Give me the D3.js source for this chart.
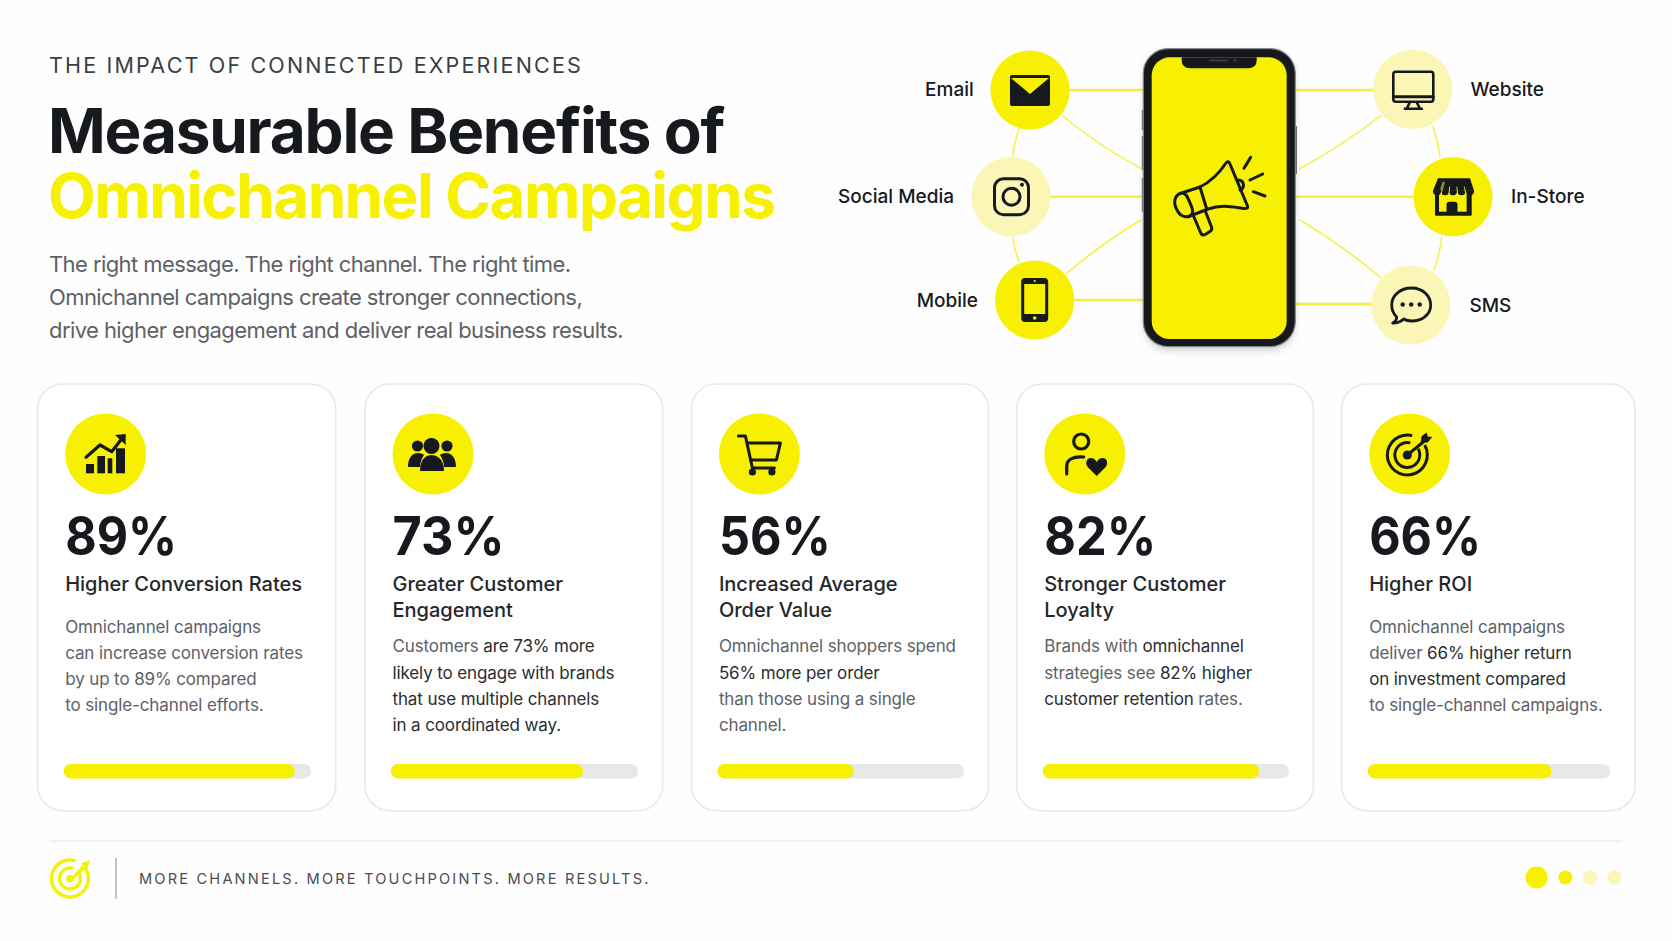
<!DOCTYPE html>
<html>
<head>
<meta charset="utf-8">
<script src="https://cdn.jsdelivr.net/npm/d3@7"></script>
<style>
  html, body { margin: 0; padding: 0; background: #fefefe; }
  svg { display: block; font-family: Inter, "Noto Sans", sans-serif; }
</style>
</head>
<body>
<div id="chart"></div>
<script>
// chart values
const eyebrow = "THE IMPACT OF CONNECTED EXPERIENCES";
const titleLines = ["Measurable Benefits of", "Omnichannel Campaigns"];
const introLines = [
    "The right message. The right channel. The right time.",
    "Omnichannel campaigns create stronger connections,",
    "drive higher engagement and deliver real business results."
];
const channelNames = ["Email", "Social Media", "Mobile", "Website", "In-Store", "SMS"];
const channelIcons = ["mail", "insta", "phone", "monitor", "store", "chat"];

const statLabels = ["89%", "73%", "56%", "82%", "66%"];
const statIcons = ["growth", "people", "cart", "loyal", "target"];
const statTitles = [
    ["Higher Conversion Rates"],
    ["Greater Customer", "Engagement"],
    ["Increased Average", "Order Value"],
    ["Stronger Customer", "Loyalty"],
    ["Higher ROI"]
];
// text between * is the darker emphasis in the card copy
const statBodies = [
    ["Omnichannel campaigns", "can increase conversion rates", "by up to 89% compared", "to single-channel efforts."],
    ["Customers *are 73% more*", "*likely to engage with brands*", "*that use multiple channels*", "*in a coordinated way.*"],
    ["Omnichannel shoppers spend", "*56% more per order*", "than those using a single", "channel."],
    ["Brands with *omnichannel*", "strategies see *82% higher*", "*customer retention* rates."],
    ["Omnichannel campaigns", "deliver *66% higher return*", "*on investment compared*", "to single-channel campaigns."]
];
// length of the yellow bars as drawn, in % of the track
const barValues = [93.4, 77.7, 55.3, 87.9, 75.7];
const footerText = "MORE CHANNELS. MORE TOUCHPOINTS. MORE RESULTS.";

// layout
const width = 1672, height = 941;
const yellow = "#f7f000", pale = "#fbf6b6", ink = "#16191e", gray = "#5e6166", bodyDark = "#2a2d31";
const cardLeft = [37.7, 365, 691.4, 1016.7, 1341.7];
const cardRight = [335.7, 662.7, 988.5, 1313.4, 1635];
const nodeX = [1030, 1011, 1034.7, 1412.8, 1453, 1410.7];
const nodeY = [90, 196.7, 300, 89.3, 196.7, 305];
const labelX = [973.8, 954, 978, 1470.5, 1511, 1469.5];
const labelY = [96, 203.3, 307, 96, 203.3, 312.3];
const nodeFill = [yellow, pale, yellow, pale, yellow, pale];

const svg = d3.select("#chart").append("svg")
    .attr("width", width)
    .attr("height", height)
    .attr("viewBox", [0, 0, width, height]);

svg.append("rect").attr("width", width).attr("height", height).attr("fill", "#fefefe");

const defs = svg.append("defs");
defs.append("filter").attr("id", "soft").attr("x", "-20%").attr("y", "-20%").attr("width", "140%").attr("height", "140%")
    .append("feGaussianBlur").attr("stdDeviation", 4);

// header text
svg.append("text")
    .attr("x", 49).attr("y", 73.3)
    .attr("font-size", 21.5).attr("letter-spacing", 2.17).attr("fill", "#3b3f44")
    .text(eyebrow);

svg.selectAll(".title").data(titleLines).join("text")
    .attr("class", "title")
    .attr("x", 48).attr("y", (d, i) => 152.7 + i * 64.8)
    .attr("font-size", 62).attr("font-weight", 700)
    .attr("letter-spacing", (d, i) => i ? -1.6 : -1.2)
    .attr("fill", (d, i) => i ? yellow : ink)
    .text(d => d);

svg.selectAll(".intro").data(introLines).join("text")
    .attr("class", "intro")
    .attr("x", 49).attr("y", (d, i) => 271.7 + i * 33.3)
    .attr("font-size", 22).attr("letter-spacing", -0.58).attr("fill", gray)
    .text(d => d);

// connector lines behind the nodes
const connectors = [
    "M1060,90H1143", "M1045,196.7H1143", "M1064,300H1143",
    "M1296,90H1375", "M1296,196.7H1415", "M1296,304H1375",
    "M1062.8,116Q1099,146 1140.8,168.3", "M1066,274Q1101,244 1140.8,220",
    "M1381.6,115Q1342,146 1299,169", "M1299,219.3Q1343,246 1380.6,277.3",
    "M1019.4,128Q1014,142 1012.8,156.7", "M1013,236.7Q1014,250 1019.4,261.7",
    "M1432.7,126Q1438,142 1440,156.7", "M1441.8,236.7Q1440,254 1434,270"
];
svg.selectAll(".connector").data(connectors).join("path")
    .attr("class", "connector")
    .attr("d", d => d)
    .attr("fill", "none")
    .attr("stroke", "#f6f040")
    .attr("stroke-width", (d, i) => i < 6 ? 2.4 : 1.5);

// phone
const phone = svg.append("g");
phone.append("rect").attr("x", 1145).attr("y", 52).attr("width", 149).attr("height", 298).attr("rx", 24)
    .attr("fill", "#000").attr("opacity", 0.2).attr("filter", "url(#soft)");
[[1141.8, 110, 20], [1141.8, 136, 34], [1141.8, 178, 34], [1295, 126, 48]].forEach(b => {
    phone.append("rect").attr("x", b[0]).attr("y", b[1]).attr("width", 2).attr("height", b[2]).attr("fill", "#6a6d70");
});
phone.append("rect").attr("x", 1143.3).attr("y", 48.6).attr("width", 152).attr("height", 298).attr("rx", 25)
    .attr("fill", "#17181b").attr("stroke", "#85888c").attr("stroke-width", 1.2);
phone.append("rect").attr("x", 1151.7).attr("y", 57.3).attr("width", 135).attr("height", 281.7).attr("rx", 18).attr("fill", yellow);
phone.append("path")
    .attr("d", "M1181.7,57.3H1256.7V60Q1256.7,68.3 1248,68.3H1190.5Q1181.7,68.3 1181.7,60Z")
    .attr("fill", "#17181b");
phone.append("rect").attr("x", 1209).attr("y", 59.5).attr("width", 19).attr("height", 2).attr("rx", 1).attr("fill", "#3a3b3f");
phone.append("circle").attr("cx", 1235).attr("cy", 60.5).attr("r", 1.6).attr("fill", "#3a3b3f");

// megaphone on the phone
const mega = phone.append("g").attr("fill", "none").attr("stroke", ink).attr("stroke-width", 3)
    .attr("stroke-linejoin", "round").attr("stroke-linecap", "round");
mega.append("path").attr("d", "M1181.7,193L1200,187C1210,182 1220,172 1226,163Q1228.5,160 1230,164L1247.5,206Q1248.5,209 1244,208.5C1233,207 1222,204 1208,209L1190,216");
mega.append("path").attr("d", "M1181.7,193C1174,195 1173,203 1177,210C1180,216 1185,218 1190,216C1194,214 1193,209 1190,203C1188,198 1186,192 1181.7,193Z");
mega.append("path").attr("d", "M1200,187L1206.7,209");
mega.append("path").attr("d", "M1193.5,216L1201,233.5Q1202.5,236 1205,234.5L1210,231.5Q1212.5,230 1211.5,227L1205.5,211.5");
mega.append("path").attr("d", "M1238,180Q1243,180 1243.5,185Q1243.5,189 1240,190");
mega.append("path").attr("d", "M1244,168.3L1250.7,157.3M1250,180L1262.7,174M1253.3,191.7L1265,196");

// channel nodes
const nodes = svg.selectAll(".node").data(channelNames).join("g").attr("class", "node");
nodes.append("circle")
    .attr("cx", (d, i) => nodeX[i]).attr("cy", (d, i) => nodeY[i]).attr("r", 39.6)
    .attr("fill", (d, i) => nodeFill[i]);
nodes.append("g")
    .attr("transform", (d, i) => `translate(${nodeX[i]},${nodeY[i]})`)
    .each(function(d, i) { drawIcon(d3.select(this), channelIcons[i], nodeFill[i]); });
nodes.append("text")
    .attr("x", (d, i) => labelX[i]).attr("y", (d, i) => labelY[i])
    .attr("text-anchor", (d, i) => i < 3 ? "end" : "start")
    .attr("font-size", 19).attr("font-weight", 500).attr("fill", ink)
    .text(d => d);

// stat cards
const card = svg.selectAll(".card").data(statLabels).join("g").attr("class", "card");

card.append("rect")
    .attr("x", (d, i) => cardLeft[i]).attr("y", 384)
    .attr("width", (d, i) => cardRight[i] - cardLeft[i]).attr("height", 426.7)
    .attr("rx", 25).attr("fill", "#fff").attr("stroke", "#e8e8e8").attr("stroke-width", 1.6);

card.append("circle")
    .attr("cx", (d, i) => cardLeft[i] + 68).attr("cy", 454).attr("r", 40.5).attr("fill", yellow);

card.append("g")
    .attr("transform", (d, i) => `translate(${cardLeft[i] + 68},454)`)
    .each(function(d, i) { drawIcon(d3.select(this), statIcons[i], yellow); });

card.append("text")
    .attr("x", (d, i) => cardLeft[i] + 27.5).attr("y", 555)
    .attr("font-size", 53).attr("font-weight", 700).attr("fill", ink)
    .attr("textLength", 112).attr("lengthAdjust", "spacingAndGlyphs")
    .text(d => d);

card.each(function(d, i) {
    const g = d3.select(this);
    const textX = cardLeft[i] + 27.5;
    const titles = statTitles[i];
    g.selectAll(".card-title").data(titles).join("text")
        .attr("class", "card-title")
        .attr("x", textX).attr("y", (t, j) => 590.7 + j * 26)
        .attr("font-size", 20).attr("font-weight", 500).attr("fill", "#24272b")
        .text(t => t);

    // body copy starts one line lower when the title wraps
    const bodyTop = titles.length > 1 ? 652.3 : 632.8;
    g.selectAll(".card-body").data(statBodies[i]).join("text")
        .attr("class", "card-body")
        .attr("x", textX).attr("y", (t, j) => bodyTop + j * 26.2)
        .attr("font-size", 17).attr("letter-spacing", -0.12).attr("fill", gray)
        .each(function(t) {
            const line = d3.select(this);
            t.split("*").forEach((part, k) => {
                if (part) line.append("tspan").attr("fill", k % 2 ? bodyDark : gray).text(part);
            });
        });

    // progress bar
    const x = d3.scaleLinear().domain([0, 100]).range([cardLeft[i] + 26, cardRight[i] - 24.5]);
    g.append("rect")
        .attr("x", x(0)).attr("y", 764)
        .attr("width", x(100) - x(0)).attr("height", 14.4)
        .attr("rx", 7.2).attr("fill", "#e8e8e8");
    g.append("rect")
        .attr("x", x(0)).attr("y", 764)
        .attr("width", x(barValues[i]) - x(0)).attr("height", 14.4)
        .attr("rx", 7.2).attr("fill", yellow);
});

// footer
svg.append("line").attr("x1", 50).attr("x2", 1622).attr("y1", 841).attr("y2", 841)
    .attr("stroke", "#ececec").attr("stroke-width", 1.6);
svg.append("g").attr("transform", "translate(70,878.5)")
    .call(g => drawIcon(g, "targetSmall", "#fefefe"));
svg.append("line").attr("x1", 116).attr("x2", 116).attr("y1", 858).attr("y2", 899)
    .attr("stroke", "#bcb79f").attr("stroke-width", 1.6);
svg.append("text").attr("x", 139).attr("y", 883.5)
    .attr("font-size", 14.6).attr("letter-spacing", 2.18).attr("fill", "#4a4d50")
    .text(footerText);

const dotX = [1536.6, 1565.4, 1590, 1614.5];
const dotR = [11, 7, 7, 7];
const dotFill = [yellow, yellow, pale, pale];
svg.selectAll(".dot").data(dotX).join("circle")
    .attr("class", "dot")
    .attr("cx", d => d).attr("cy", 877.5)
    .attr("r", (d, i) => dotR[i])
    .attr("fill", (d, i) => dotFill[i]);

// icons, drawn around the centre of their circle
function drawIcon(g, name, bg) {
    const stroke = (w) => g.append("g").attr("fill", "none").attr("stroke", ink).attr("stroke-width", w)
        .attr("stroke-linecap", "round").attr("stroke-linejoin", "round");
    if (name === "mail") {
        g.append("rect").attr("x", -20).attr("y", -15).attr("width", 40).attr("height", 31).attr("rx", 2).attr("fill", ink);
        g.append("path").attr("d", "M-19,-12L0,4L19,-12Z").attr("fill", bg);
    } else if (name === "insta") {
        const s = stroke(3);
        s.append("rect").attr("x", -16.5).attr("y", -18).attr("width", 34).attr("height", 36).attr("rx", 9);
        s.append("circle").attr("cx", 0.5).attr("cy", 0).attr("r", 8.5);
        g.append("circle").attr("cx", 11).attr("cy", -12).attr("r", 2).attr("fill", ink);
    } else if (name === "phone") {
        g.append("rect").attr("x", -13.5).attr("y", -22).attr("width", 27).attr("height", 44).attr("rx", 4).attr("fill", ink);
        g.append("rect").attr("x", -10.5).attr("y", -16).attr("width", 21).attr("height", 30).attr("fill", bg);
        g.append("circle").attr("cx", 0).attr("cy", -19).attr("r", 1.1).attr("fill", bg);
        g.append("circle").attr("cx", 0).attr("cy", 18).attr("r", 1.8).attr("fill", bg);
    } else if (name === "monitor") {
        const s = stroke(2.6);
        s.append("rect").attr("x", -19.5).attr("y", -17.5).attr("width", 40).attr("height", 30).attr("rx", 2.5);
        s.append("path").attr("d", "M-19.5,7.5H20.5").attr("stroke-width", 3);
        s.append("path").attr("d", "M-3,13L-6,19M4,13L7,19M-8,19.5H9");
    } else if (name === "store") {
        // walls with a doorway, then the awning over them
        g.append("rect").attr("x", -18).attr("y", -3).attr("width", 36.7).attr("height", 22).attr("rx", 1).attr("fill", ink);
        g.append("rect").attr("x", -14).attr("y", -3).attr("width", 27.6).attr("height", 18).attr("fill", bg);
        g.append("path").attr("d", "M-6.5,16V8Q-6.5,5 -3.5,5H1.5Q4.5,5 4.5,8V16Z").attr("fill", ink);
        g.append("path").attr("d", "M-15,-18.4H17L21,-6H-20Z").attr("fill", ink);
        [-20, -12, -4, 4.5, 13].forEach(x => {
            g.append("path").attr("d", `M${x},-6.5H${x + 8}V-5.5A4,4 0 0 1 ${x},-5.5Z`).attr("fill", ink);
        });
        [-12, -4, 4.5, 13].forEach((x, i) => {
            g.append("line").attr("x1", x).attr("x2", x + (i - 1.5) * -1.2).attr("y1", -2).attr("y2", -10)
                .attr("stroke", bg).attr("stroke-width", 0.9);
        });
        g.append("path").attr("d", "M-10.5,-15L-13,-7H-10L-8,-15Z").attr("fill", "#8d8a3a");
    } else if (name === "chat") {
        const s = stroke(2.8);
        s.append("path").attr("d", "M1,-17C-11,-17 -19,-9 -19,0C-19,5 -17,9 -14,12C-14,15 -16,17 -18,18C-13,18 -9,16 -7,14C-4,16 -2,16 1,16C12,16 20,9 20,0C20,-9 12,-17 1,-17Z");
        [-8, 0.5, 9].forEach(x => g.append("circle").attr("cx", x).attr("cy", -0.5).attr("r", 2.2).attr("fill", ink));
    } else if (name === "growth") {
        [[-19.7, 10, 8, 9.3], [-8.4, 2, 7.7, 17.3], [2, 4.3, 4.6, 15], [10.3, -5.7, 9, 25]].forEach(b => {
            g.append("rect").attr("x", b[0]).attr("y", b[1]).attr("width", b[2]).attr("height", b[3]).attr("fill", ink);
        });
        stroke(3.2).append("path").attr("d", "M-19.7,3.3L-5.7,-9L6,-2.3L17,-16.5");
        g.append("path").attr("d", "M9.3,-19L20,-20V-9Z").attr("fill", ink);
    } else if (name === "people") {
        g.append("circle").attr("cx", -1.5).attr("cy", -8).attr("r", 8).attr("fill", ink);
        g.append("circle").attr("cx", -15.5).attr("cy", -8).attr("r", 5.6).attr("fill", ink);
        g.append("circle").attr("cx", 14).attr("cy", -8).attr("r", 5.6).attr("fill", ink);
        g.append("path").attr("d", "M-25,13C-25,3 -20,-1 -15,-1C-12,-1 -10,0 -9,1C-11,4 -13,8 -13,13Z").attr("fill", ink);
        g.append("path").attr("d", "M23,13C23,3 18,-1 13,-1C10,-1 8,0 7,1C9,4 11,8 11,13Z").attr("fill", ink);
        g.append("path").attr("d", "M-13,17C-13,6 -8,1 -1.5,1C5,1 11,6 11,17Z").attr("fill", ink);
    } else if (name === "cart") {
        const s = stroke(3);
        s.append("path").attr("d", "M-21,-18H-14L-7,14H15");
        s.append("path").attr("d", "M-12,-11H21L17,6H-9");
        g.append("circle").attr("cx", -7).attr("cy", 18).attr("r", 3.6).attr("fill", ink);
        g.append("circle").attr("cx", 12.5).attr("cy", 18).attr("r", 3.6).attr("fill", ink);
    } else if (name === "loyal") {
        const s = stroke(3.2);
        s.append("circle").attr("cx", -3.5).attr("cy", -12.5).attr("r", 7.5);
        s.append("path").attr("d", "M-18,20V12C-18,6 -12,2 -1,3");
        g.append("path").attr("d", "M12,22L3,13C0,9 2,4 6,4C9,4 11,6 12,8C13,6 15,4 18,4C22,4 24,9 21,13Z").attr("fill", ink);
    } else if (name === "target") {
        const rings = [[20, 3], [12.5, 3]];
        rings.forEach(a => {
            g.append("path")
                .attr("d", d3.arc()({ innerRadius: a[0] - a[1] / 2, outerRadius: a[0] + a[1] / 2, startAngle: 1.05, endAngle: 2 * Math.PI + 0.25 }))
                .attr("transform", "translate(-2.4,1)")
                .attr("fill", ink);
        });
        g.append("circle").attr("cx", -2.4).attr("cy", 1).attr("r", 4.6).attr("fill", ink);
        g.append("path").attr("d", "M-2.4,1L16,-14").attr("stroke", ink).attr("stroke-width", 3).attr("fill", "none");
        g.append("path").attr("d", "M11,-12L12,-18L17,-21.5L18,-17.5L22.5,-17L18,-11.5Z").attr("fill", ink);
    } else if (name === "targetSmall") {
        // footer version: yellow, no feathers on the arrow
        [[18.5, 3.4], [10.5, 3.4]].forEach(a => {
            g.append("path")
                .attr("d", d3.arc()({ innerRadius: a[0] - a[1] / 2, outerRadius: a[0] + a[1] / 2, startAngle: 0.95, endAngle: 2 * Math.PI + 0.3 }))
                .attr("fill", yellow);
        });
        g.append("circle").attr("cx", 0).attr("cy", 0).attr("r", 3.8).attr("fill", yellow);
        g.append("path").attr("d", "M-1,1.5L13,-14L16,-10.5L1,3Z").attr("fill", yellow);
        g.append("path").attr("d", "M11,-15.5L20,-18L17.5,-9.5Z").attr("fill", yellow);
    }
}
</script>
</body>
</html>
